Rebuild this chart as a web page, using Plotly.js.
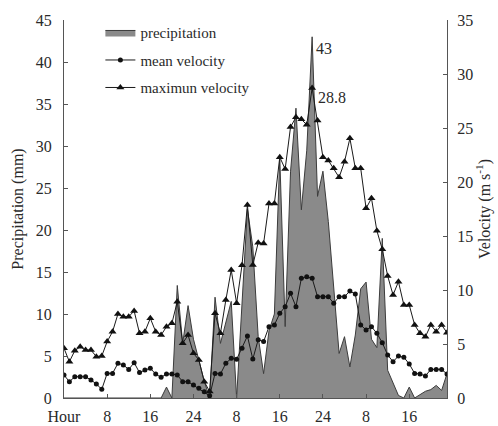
<!DOCTYPE html>
<html>
<head>
<meta charset="utf-8">
<script src="https://cdn.plot.ly/plotly-3.0.1.min.js"></script>
<style>html,body{margin:0;padding:0;background:#fff;}#chart{width:498px;height:426px;}</style>
</head>
<body>
<div id="chart"></div>
<script>
// Hour index (0..71)
const hours = Array.from({length: 72}, (_, i) => i);

// Precipitation (mm), left axis
const precipitation = [
  0,0,0,0,0,0,0,0,0,0,0,0,0,0,0,0,0,0,0,1.3,
  0,13.4,6.5,11,7,4.5,2,0,12,6.5,9,11.5,0,11,22.5,18,
  7.3,2.9,8,10,28.7,8.5,27,34.5,22.4,29.5,43,24,27,21,13,5.3,
  7.3,3.7,7.5,13,13.8,7,6,19,3.3,1.7,0.3,0,1.3,0,0.4,0.8,1.0,1.5,0.9,2.9
];

// Mean velocity (m/s), right axis
const meanVelocity = [
  2.13,1.51,1.97,1.97,1.97,1.67,1.30,0.80,2.28,2.28,3.21,3.06,2.65,3.27,2.35,2.59,2.75,2.22,1.91,2.22,
  2.22,2.13,1.51,1.51,1.20,0.90,0.59,0.20,2.28,2.22,3.21,3.67,3.58,4.60,5.74,3.60,
  5.40,5.22,6.60,6.76,7.84,8.46,9.69,8.46,11.08,11.23,11.08,9.38,9.38,9.38,8.77,9.38,
  9.38,9.91,9.63,6.76,6.30,6.60,5.99,5.12,3.98,3.36,3.89,3.77,3.15,2.28,2.22,2.04,2.65,2.65,2.65,2.22
];

// Maximum velocity (m/s), right axis
const maxVelocity = [
  4.60,3.36,4.38,4.75,4.44,4.44,3.83,3.89,5.22,6.14,7.78,7.53,7.53,8.06,5.99,6.14,7.38,6.14,5.83,6.60,
  6.91,8.92,5.06,5.83,4.14,3.52,1.51,0.60,7.84,5.99,9.07,11.85,8.77,12.30,17.87,12.31,
  14.38,14.30,18.00,18.00,22.30,21.20,25.10,25.99,25.80,25.30,28.70,25.70,22.30,22.00,21.27,20.43,
  21.88,24.04,21.27,21.27,17.56,18.49,15.49,13.77,11.30,9.54,10.77,8.61,8.61,6.76,5.99,5.68,6.76,6.14,6.76,6.05
];

// Tick labels
const tickPositions = [0, 8, 16, 24, 32, 40, 48, 56, 64];
const tickLabels = ["Hour", "8", "16", "24", "8", "16", "24", "8", "16"];

const FONT = "Liberation Serif, Times New Roman, serif";
const TXT = "#2a2a2a";
const AX = "#555555";

const traces = [
  {
    x: hours, y: precipitation, name: "precipitation", type: "scatter", mode: "lines",
    fill: "tozeroy", fillcolor: "rgb(138,138,138)",
    line: {color: "#3c3c3c", width: 1}, yaxis: "y", legendgroup: "a"
  },
  {
    x: hours, y: meanVelocity, name: "mean velocity", type: "scatter", mode: "lines+markers",
    line: {color: "#1a1a1a", width: 1}, marker: {symbol: "circle", size: 5, color: "#111"},
    yaxis: "y2", legendgroup: "b"
  },
  {
    x: hours, y: maxVelocity, name: "maximun velocity", type: "scatter", mode: "lines+markers",
    line: {color: "#1a1a1a", width: 1}, marker: {symbol: "triangle-up", size: 7, color: "#111"},
    yaxis: "y2", legendgroup: "c"
  }
];

const layout = {
  width: 498, height: 426,
  margin: {l: 64, r: 51, t: 20, b: 28, pad: 0},
  paper_bgcolor: "#fff", plot_bgcolor: "#fff",
  font: {family: FONT, size: 16, color: TXT},
  showlegend: true,
  legend: {
    x: 0.095, y: 1.01, xanchor: "left", yanchor: "top",
    bgcolor: "rgba(0,0,0,0)", borderwidth: 0,
    font: {family: FONT, size: 15, color: TXT},
    tracegroupgap: 5, itemwidth: 30
  },
  xaxis: {
    range: [0, 71], showgrid: false, zeroline: false,
    showline: true, linecolor: AX, linewidth: 1,
    ticks: "inside", ticklen: 4, tickcolor: AX,
    tickmode: "array", tickvals: tickPositions, ticktext: tickLabels,
    tickfont: {family: FONT, size: 16, color: TXT}, ticklabelstandoff: 4
  },
  yaxis: {
    range: [0, 45], dtick: 5, showgrid: false, zeroline: false,
    showline: true, linecolor: AX, linewidth: 1,
    ticks: "inside", ticklen: 4, tickcolor: AX,
    tickfont: {family: FONT, size: 16, color: TXT}, ticklabelstandoff: 8,
    title: {text: "Precipitation (mm)", font: {family: FONT, size: 16, color: TXT}, standoff: 8}
  },
  yaxis2: {
    range: [0, 35], dtick: 5, overlaying: "y", side: "right",
    showgrid: false, zeroline: false,
    showline: true, linecolor: AX, linewidth: 1,
    ticks: "inside", ticklen: 4, tickcolor: AX,
    tickfont: {family: FONT, size: 16, color: TXT}, ticklabelstandoff: 6,
    title: {text: "Velocity (m s<sup>-1</sup>)", font: {family: FONT, size: 16, color: TXT}, standoff: 6}
  },
  annotations: [
    {x: 46, y: 43, xref: "x", yref: "y", text: "43", showarrow: false,
     xanchor: "left", yanchor: "middle", xshift: 2, yshift: -12,
     font: {family: FONT, size: 16, color: TXT}},
    {x: 46, y: 28.7, xref: "x", yref: "y2", text: "28.8", showarrow: false,
     xanchor: "left", yanchor: "middle", xshift: 4, yshift: -9,
     font: {family: FONT, size: 16, color: TXT}}
  ]
};

Plotly.newPlot("chart", traces, layout, {displayModeBar: false, staticPlot: true});
</script>
</body>
</html>
